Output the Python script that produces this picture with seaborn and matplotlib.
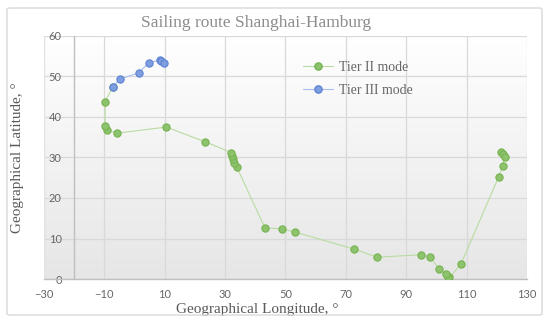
import numpy as np
import pandas as pd
import seaborn as sns
import matplotlib.pyplot as plt
from matplotlib.colors import LinearSegmentedColormap
from matplotlib.patches import FancyBboxPatch
from matplotlib.lines import Line2D

# route points (Shanghai -> Hamburg)
tier2_lon = [121.3, 122.1, 122.6, 122.0, 120.7, 108.1, 104.3, 103.9, 103.1, 100.8,
             97.9, 94.9, 80.4, 72.7, 53.1, 48.9, 43.2, 33.9, 32.9, 32.6,
             32.3, 32.1, 23.3, 10.5, -5.7, -9.1, -9.8, -9.7, -7.2]
tier2_lat = [31.3, 30.8, 30.2, 27.9, 25.3, 3.6, 0.4, 0.6, 1.2, 2.6,
             5.5, 6.0, 5.4, 7.4, 11.6, 12.4, 12.6, 27.6, 28.6, 29.7,
             30.4, 31.2, 33.9, 37.5, 36.0, 36.8, 37.7, 43.8, 47.5]
tier3_lon = [-7.2, -4.9, 1.4, 4.8, 8.4, 8.9, 9.7]
tier3_lat = [47.5, 49.3, 50.9, 53.4, 54.0, 53.8, 53.4]

x_ticks = [-30, -10, 10, 30, 50, 70, 90, 110, 130]
y_ticks = [0, 10, 20, 30, 40, 50, 60]

df2 = pd.DataFrame({'lon': tier2_lon, 'lat': tier2_lat})
df3 = pd.DataFrame({'lon': tier3_lon, 'lat': tier3_lat})

sns.set_style('white')
plt.rcParams['font.family'] = ['Liberation Serif', 'DejaVu Serif']

fig = plt.figure(figsize=(5.5, 3.23), dpi=100)
ax = fig.add_axes([0.08, 0.136, 0.878, 0.753])

# outer chart border
fig.patches.append(FancyBboxPatch((7 / 550, 8 / 323), 535 / 550, 307 / 323,
                                  boxstyle='round,pad=0,rounding_size=0.005',
                                  transform=fig.transFigure, facecolor='none',
                                  edgecolor='#d9d9d9', linewidth=1))

# gradient plot area
grad = LinearSegmentedColormap.from_list('g', ['#e6e6e6', '#ffffff'])
ax.imshow(np.linspace(0, 1, 256).reshape(-1, 1), extent=[-30, 130, 0, 60],
          aspect='auto', cmap=grad, origin='lower', zorder=0)

green_face, green_edge, green_line = '#8dc36c', '#76b351', '#b9dba1'
blue_face, blue_edge, blue_line = '#7f9ee0', '#5b82d3', '#a9bfee'
msize = 5.2

sns.lineplot(data=df2, x='lon', y='lat', sort=False, estimator=None, ax=ax,
             color=green_line, linewidth=0.8, marker='o', markersize=msize,
             markerfacecolor=green_face, markeredgecolor=green_edge,
             markeredgewidth=0.8, zorder=3)
sns.lineplot(data=df3, x='lon', y='lat', sort=False, estimator=None, ax=ax,
             color=blue_line, linewidth=0.8, marker='o', markersize=msize,
             markerfacecolor=blue_face, markeredgecolor=blue_edge,
             markeredgewidth=0.8, zorder=4)

ax.set_xlim(-30, 130)
ax.set_ylim(0, 60)
ax.set_xticks(x_ticks)
ax.set_yticks(y_ticks)
ax.grid(True, color='#d9d9d9', linewidth=0.9, zorder=1)
ax.set_axisbelow(True)

for s in ['top', 'right']:
    ax.spines[s].set_visible(False)
ax.spines['left'].set_position(('data', -20))
ax.spines['left'].set_color('#bfbfbf')
ax.spines['left'].set_linewidth(1)
ax.spines['bottom'].set_color('#bfbfbf')
ax.spines['bottom'].set_linewidth(1)
ax.axvline(-30, color='#e3e3e3', linewidth=0.8, zorder=1)

ax.tick_params(axis='both', length=0, colors='#595959', labelsize=8)
ax.tick_params(axis='y', pad=9)
ax.tick_params(axis='x', pad=7)
for lab in ax.get_xticklabels() + ax.get_yticklabels():
    lab.set_family(['Lato', 'DejaVu Sans'])
    lab.set_color('#666666')

ax.set_xlabel('Geographical Longitude, °', fontsize=11, color='#595959')
ax.set_ylabel('Geographical Latitude, °', fontsize=11, color='#595959')
ax.xaxis.set_label_coords(0.441, -0.1)
ax.yaxis.set_label_coords(-0.042, 0.5)
fig.suptitle('Sailing route Shanghai-Hamburg', fontsize=12.5, color='#8c8c8c',
             x=0.466, y=0.955)

handles = [Line2D([], [], color=green_line, linewidth=0.8, marker='o', markersize=msize,
                  markerfacecolor=green_face, markeredgecolor=green_edge),
           Line2D([], [], color=blue_line, linewidth=0.8, marker='o', markersize=msize,
                  markerfacecolor=blue_face, markeredgecolor=blue_edge)]
leg = ax.legend(handles, ['Tier II mode', 'Tier III mode'], loc='upper left',
                bbox_to_anchor=(0.51, 0.95), frameon=False, fontsize=10,
                labelcolor='#666666', handlelength=2.2, handletextpad=0.4,
                labelspacing=0.75)

fig.savefig('out.png', dpi=100)
